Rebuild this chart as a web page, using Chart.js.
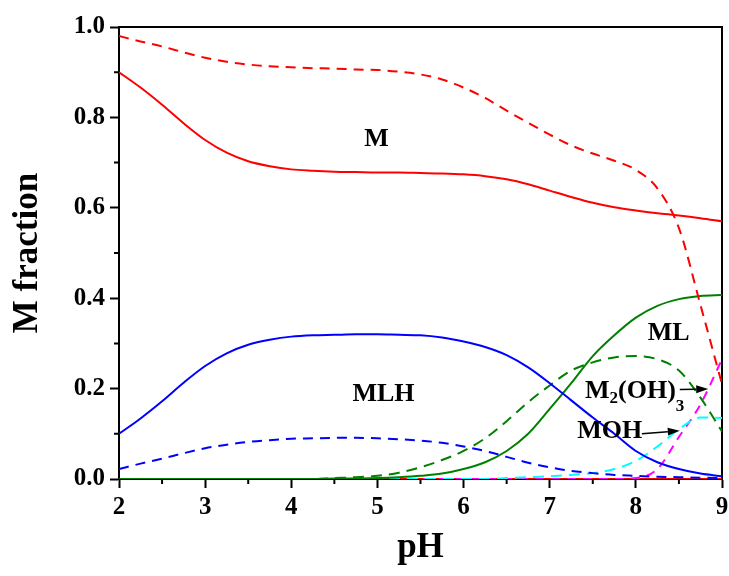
<!DOCTYPE html>
<html>
<head>
<meta charset="utf-8">
<script src="https://cdn.jsdelivr.net/npm/chart.js@4.4.0/dist/chart.umd.min.js"></script>
<style>
  html, body { margin: 0; padding: 0; background: #fff; }
</style>
</head>
<body>
<canvas id="chart" width="729" height="576"></canvas>
<script>
// pH grid and species fractions
const pH = [2, 2.25, 2.5, 2.75, 3, 3.25, 3.5, 3.75, 4, 4.25, 4.5, 4.75, 5, 5.25, 5.5,
            5.75, 6, 6.25, 6.5, 6.75, 7, 7.25, 7.5, 7.75, 8, 8.25, 8.5, 8.75, 9];

const mSolid = [0.900, 0.866, 0.828, 0.787, 0.750, 0.722, 0.703, 0.692, 0.685, 0.682, 0.680, 0.679, 0.678, 0.678, 0.677,
                0.676, 0.674, 0.670, 0.663, 0.652, 0.638, 0.624, 0.611, 0.601, 0.594, 0.588, 0.583, 0.577, 0.570];
const mDash = [0.980, 0.968, 0.957, 0.944, 0.932, 0.923, 0.917, 0.913, 0.911, 0.909, 0.908, 0.906, 0.905, 0.901, 0.895,
               0.884, 0.866, 0.843, 0.815, 0.788, 0.762, 0.738, 0.720, 0.704, 0.684, 0.643, 0.555, 0.385, 0.210];
const mlhSolid = [0.100, 0.134, 0.172, 0.213, 0.250, 0.278, 0.297, 0.308, 0.315, 0.318, 0.319, 0.320, 0.320, 0.319, 0.318,
                  0.313, 0.304, 0.292, 0.274, 0.247, 0.212, 0.174, 0.136, 0.100, 0.062, 0.037, 0.022, 0.012, 0.006];
const mlhDash = [0.022, 0.034, 0.045, 0.057, 0.068, 0.076, 0.082, 0.086, 0.089, 0.090, 0.091, 0.091, 0.090, 0.088, 0.085,
                 0.080, 0.072, 0.062, 0.049, 0.036, 0.026, 0.018, 0.013, 0.009, 0.007, 0.005, 0.004, 0.003, 0.002];
const mlSolid = [0, 0, 0, 0, 0, 0, 0, 0, 0, 0, 0.001, 0.001, 0.002, 0.004, 0.007,
                 0.012, 0.022, 0.037, 0.062, 0.100, 0.155, 0.212, 0.272, 0.318, 0.357, 0.383, 0.398, 0.405, 0.407];
const m2oh3Green = [0, 0, 0, 0, 0, 0, 0, 0, 0, 0, 0.002, 0.004, 0.007, 0.014, 0.026,
                    0.042, 0.062, 0.090, 0.128, 0.170, 0.207, 0.240, 0.258, 0.269, 0.272, 0.265, 0.240, 0.180, 0.105];
const mohDash = [0, 0, 0, 0, 0, 0, 0, 0, 0, 0, 0, 0, 0, 0, 0,
                 0, 0, 0, 0.002, 0.004, 0.006, 0.009, 0.013, 0.022, 0.040, 0.072, 0.110, 0.136, 0.135];
const m2oh3Dash = [0, 0, 0, 0, 0, 0, 0, 0, 0, 0, 0, 0, 0, 0, 0,
                   0, 0, 0, 0, 0, 0, 0, 0, 0, 0.002, 0.022, 0.093, 0.165, 0.265];
const otherZero = [0, 0, 0, 0, 0, 0, 0, 0, 0, 0, 0, 0, 0, 0, 0,
                   0, 0, 0, 0, 0, 0, 0, 0, 0, 0, 0, 0, 0, 0];

const xMajor = [2, 3, 4, 5, 6, 7, 8, 9];
const yMajor = [0, 0.2, 0.4, 0.6, 0.8, 1.0];

const serif = '"Liberation Serif", "Times New Roman", serif';

function pts(vals) {
  return pH.map((p, i) => ({ x: p, y: vals[i] }));
}

function line(vals, color, dash) {
  return {
    data: pts(vals),
    borderColor: color,
    borderWidth: 2,
    borderDash: dash || [],
    pointRadius: 0,
    cubicInterpolationMode: 'monotone',
    fill: false
  };
}

// text labels placed in data coordinates
const notes = [
  { text: 'M', x: 4.99, y: 0.751 },
  { text: 'MLH', x: 5.07, y: 0.188 },
  { text: 'ML', x: 8.38, y: 0.322 }
];

function isMajor(list, v) {
  return list.some(m => Math.abs(m - v) < 1e-9);
}

function arrow(ctx, x1, y1, x2, y2) {
  const ang = Math.atan2(y2 - y1, x2 - x1);
  const len = 12, half = 4;
  ctx.beginPath();
  ctx.moveTo(x1, y1);
  ctx.lineTo(x2 - len * Math.cos(ang), y2 - len * Math.sin(ang));
  ctx.lineWidth = 1.5;
  ctx.stroke();
  ctx.beginPath();
  ctx.moveTo(x2, y2);
  ctx.lineTo(x2 - len * Math.cos(ang) + half * Math.sin(ang), y2 - len * Math.sin(ang) - half * Math.cos(ang));
  ctx.lineTo(x2 - len * Math.cos(ang) - half * Math.sin(ang), y2 - len * Math.sin(ang) + half * Math.cos(ang));
  ctx.closePath();
  ctx.fill();
}

const extras = {
  id: 'extras',
  beforeDatasetsDraw(chart) {
    const { ctx, chartArea: a, scales: { x, y } } = chart;
    ctx.save();
    ctx.strokeStyle = '#000';
    ctx.lineWidth = 2;
    ctx.strokeRect(a.left, a.top, a.right - a.left, a.bottom - a.top);
    // minor ticks
    ctx.beginPath();
    x.ticks.forEach(t => {
      if (!isMajor(xMajor, t.value)) {
        const px = x.getPixelForValue(t.value);
        ctx.moveTo(px, a.bottom);
        ctx.lineTo(px, a.bottom + 5);
      }
    });
    y.ticks.forEach(t => {
      if (!isMajor(yMajor, t.value)) {
        const py = y.getPixelForValue(t.value);
        ctx.moveTo(a.left, py);
        ctx.lineTo(a.left - 5, py);
      }
    });
    ctx.stroke();
    ctx.restore();
  },
  afterDatasetsDraw(chart) {
    const { ctx, scales: { x, y } } = chart;
    ctx.save();
    ctx.fillStyle = '#000';
    ctx.strokeStyle = '#000';
    ctx.font = 'bold 26px ' + serif;
    ctx.textAlign = 'center';
    ctx.textBaseline = 'middle';
    notes.forEach(n => ctx.fillText(n.text, x.getPixelForValue(n.x), y.getPixelForValue(n.y)));

    // M2(OH)3 with subscripts
    ctx.textAlign = 'left';
    ctx.textBaseline = 'alphabetic';
    let px = x.getPixelForValue(7.41);
    const cy = y.getPixelForValue(0.198);
    const parts = [['M', 0], ['2', 5], ['(OH)', 0], ['3', 13]];
    parts.forEach(([t, drop]) => {
      ctx.font = (drop ? 'bold 17px ' : 'bold 26px ') + serif;
      ctx.fillText(t, px, cy + 8 + drop);
      px += ctx.measureText(t).width;
    });
    arrow(ctx, x.getPixelForValue(8.51), y.getPixelForValue(0.198), x.getPixelForValue(8.84), y.getPixelForValue(0.199));

    // MOH
    ctx.font = 'bold 26px ' + serif;
    ctx.textBaseline = 'middle';
    ctx.fillText('MOH', x.getPixelForValue(7.32), y.getPixelForValue(0.105));
    arrow(ctx, x.getPixelForValue(8.07), y.getPixelForValue(0.100), x.getPixelForValue(8.51), y.getPixelForValue(0.107));
    ctx.restore();
  }
};

new Chart(document.getElementById('chart').getContext('2d'), {
  type: 'line',
  data: {
    datasets: [
      line(mSolid, '#FF0000'),
      line(mDash, '#FF0000', [10, 7]),
      line(mlhSolid, '#0000FF'),
      line(mlhDash, '#0000FF', [10, 7]),
      line(mlSolid, '#008000'),
      line(m2oh3Green, '#008000', [11, 7]),
      line(mohDash, '#00FFFF', [11, 7]),
      line(m2oh3Dash, '#FF00FF', [9, 7]),
      line(otherZero, '#FF0000')
    ]
  },
  options: {
    responsive: false,
    animation: false,
    layout: { padding: { top: 27, right: 7, left: 0, bottom: 0 } },
    plugins: { legend: { display: false }, tooltip: { enabled: false } },
    scales: {
      x: {
        type: 'linear',
        min: 2,
        max: 9,
        afterFit: s => { s.height = 97; s.paddingLeft = 0; s.paddingRight = 0; },
        ticks: {
          stepSize: 0.5,
          autoSkip: false,
          maxRotation: 0,
          padding: 5,
          color: '#000',
          font: { family: serif, size: 25, weight: 'bold' },
          callback: v => isMajor(xMajor, v) ? String(v) : ''
        },
        grid: {
          drawOnChartArea: false,
          tickLength: 9,
          tickWidth: 2,
          tickColor: c => isMajor(xMajor, c.tick.value) ? '#000' : 'rgba(0,0,0,0)'
        },
        border: { color: '#000', width: 2 },
        title: {
          display: true,
          text: 'pH',
          color: '#000',
          font: { family: serif, size: 35, weight: 'bold' },
          padding: { top: 0, bottom: 7 }
        }
      },
      y: {
        min: 0,
        max: 1,
        afterFit: s => { s.width = 119; s.paddingTop = 0; s.paddingBottom = 0; },
        ticks: {
          stepSize: 0.1,
          autoSkip: false,
          padding: 5,
          color: '#000',
          font: { family: serif, size: 25, weight: 'bold' },
          callback: v => isMajor(yMajor, v) ? v.toFixed(1) : ''
        },
        grid: {
          drawOnChartArea: false,
          tickLength: 9,
          tickWidth: 2,
          tickColor: c => isMajor(yMajor, c.tick.value) ? '#000' : 'rgba(0,0,0,0)'
        },
        border: { color: '#000', width: 2 },
        title: {
          display: true,
          text: 'M fraction',
          color: '#000',
          font: { family: serif, size: 35, weight: 'bold' },
          padding: { top: 7, bottom: 0 }
        }
      }
    }
  },
  plugins: [extras]
});
</script>
</body>
</html>
